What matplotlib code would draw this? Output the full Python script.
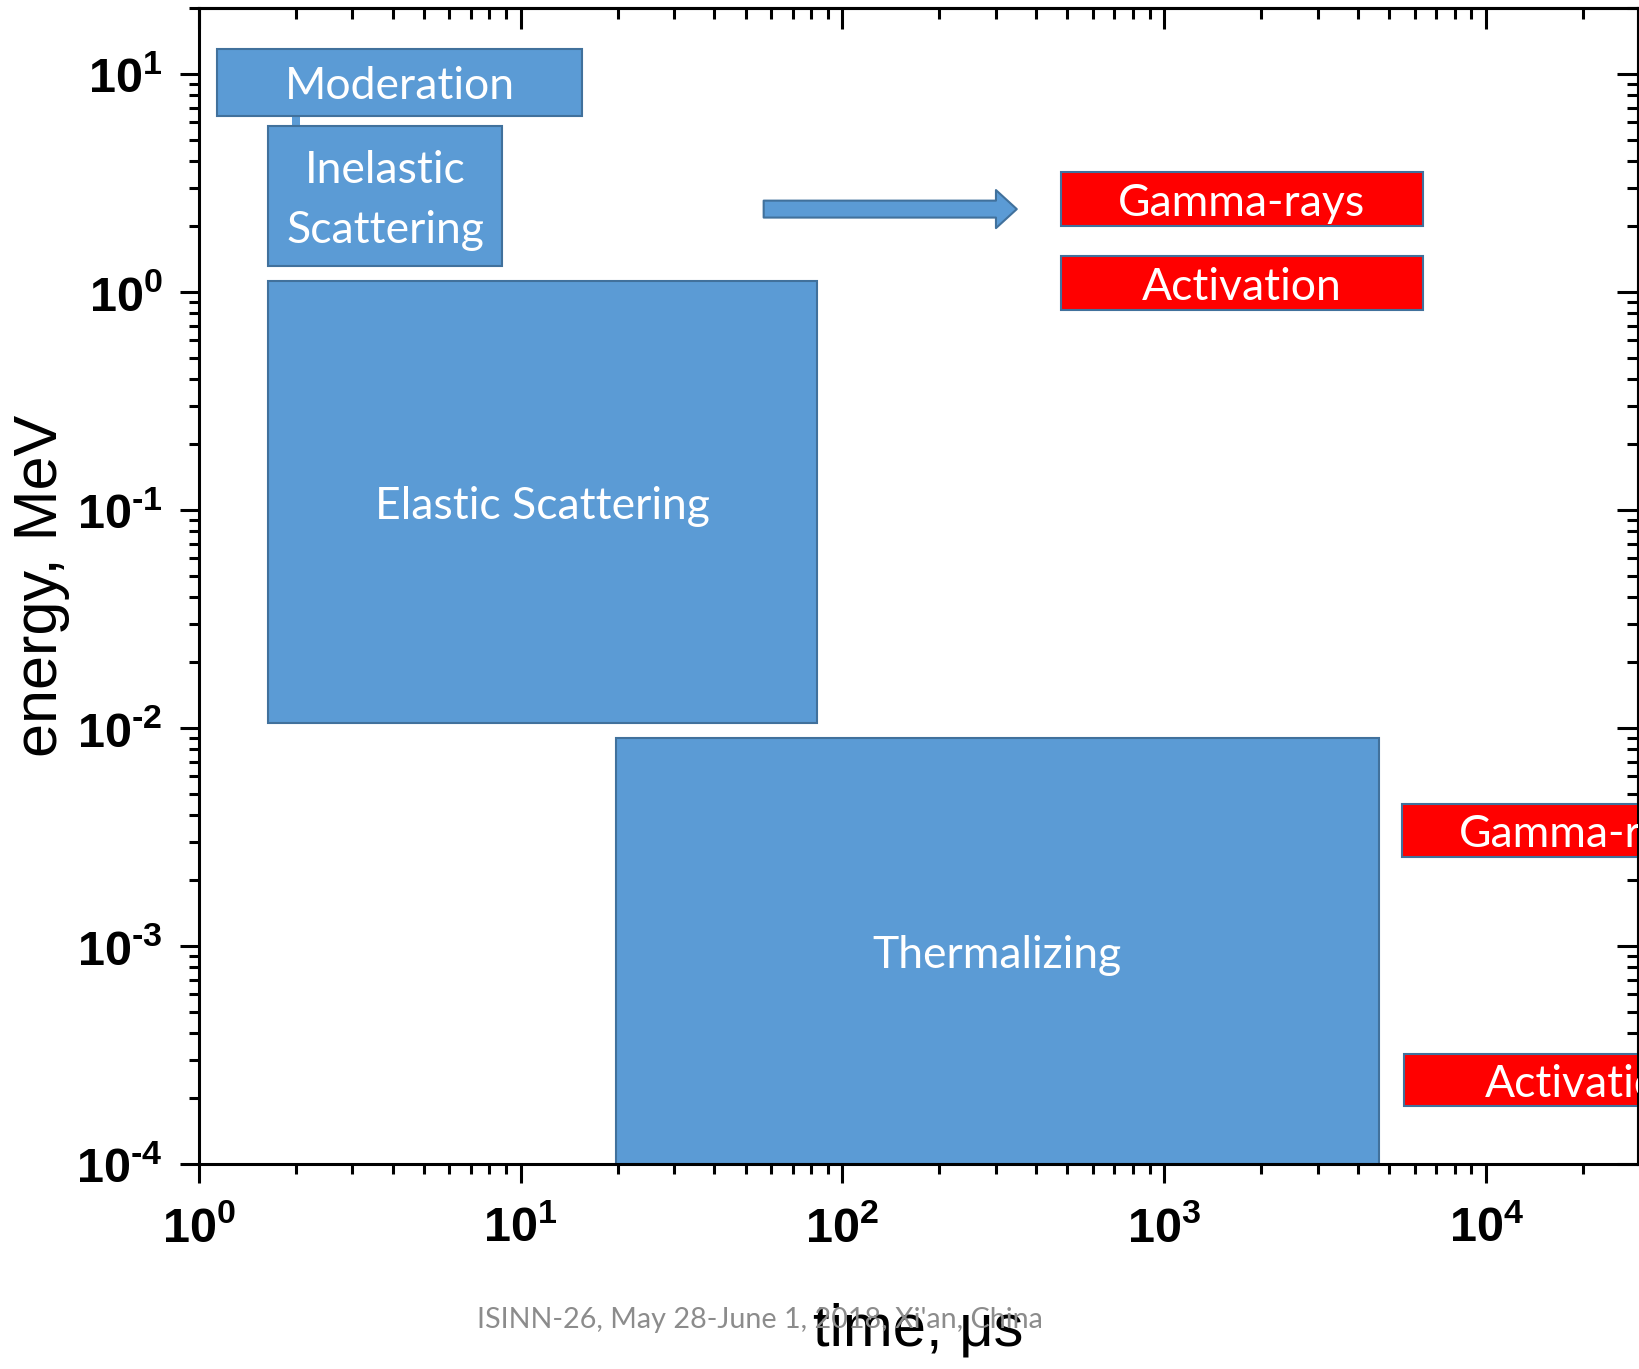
import matplotlib
matplotlib.use("Agg")
import matplotlib.pyplot as plt
import numpy as np
from matplotlib import font_manager
from matplotlib.ticker import LogLocator, NullFormatter

# blue process boxes (time in us, energy in MeV)
box_labels = ["Moderation", "Inelastic\nScattering", "Elastic Scattering", "Thermalizing"]
box_t_start = [1.14, 1.64, 1.64, 19.8]
box_t_end = [15.5, 8.76, 83.3, 4630]
box_e_low = [6.43, 1.31, 0.0106, 1e-4]
box_e_high = [13.0, 5.75, 1.12, 0.00897]

# small connector between Moderation and Inelastic
link_t = [1.95, 2.06]
link_e = [5.75, 6.43]

# red product boxes
red_labels = ["Gamma-rays", "Activation", "Gamma-rays", "Activation"]
red_t_start = [476, 476, 5460, 5550]
red_t_end = [6350, 6350, 72800, 74000]
red_e_low = [2.01, 0.823, 0.00255, 1.84e-4]
red_e_high = [3.54, 1.46, 0.00448, 3.19e-4]

# arrow
arrow_t = [56.9, 348]
arrow_e = 2.40

x_ticks = [1, 10, 100, 1000, 10000]
x_tick_labels = [r"$\mathbf{10^{0}}$", r"$\mathbf{10^{1}}$", r"$\mathbf{10^{2}}$",
                 r"$\mathbf{10^{3}}$", r"$\mathbf{10^{4}}$"]
y_ticks = [1e-4, 1e-3, 1e-2, 1e-1, 1, 10]
y_tick_labels = [r"$\mathbf{10^{\text{-}4}}$", r"$\mathbf{10^{\text{-}3}}$",
                 r"$\mathbf{10^{\text{-}2}}$", r"$\mathbf{10^{\text{-}1}}$",
                 r"$\mathbf{10^{0}}$", r"$\mathbf{10^{1}}$"]

BLUE = "#5B9BD5"
EDGE = "#41719C"
RED = "#FF0000"

names = {f.name for f in font_manager.fontManager.ttflist}
box_font = "Lato" if "Lato" in names else "DejaVu Sans"
ax_font = "Liberation Sans" if "Liberation Sans" in names else "DejaVu Sans"

plt.rcParams["mathtext.fontset"] = "custom"
plt.rcParams["mathtext.rm"] = ax_font + ":bold"
plt.rcParams["mathtext.bf"] = ax_font + ":bold"
plt.rcParams["mathtext.it"] = ax_font + ":italic"

fig = plt.figure(figsize=(16.4, 13.69), dpi=100)
ax = fig.add_axes([0.1212, 0.1497, 0.999 - 0.1212, 0.9939 - 0.1497])
ax.set_xscale("log")
ax.set_yscale("log")
ax.set_xlim(1, 29700)
ax.set_ylim(1e-4, 20)

# boxes
ax.bar(box_t_start, np.subtract(box_e_high, box_e_low),
       width=np.subtract(box_t_end, box_t_start), bottom=box_e_low,
       align="edge", color=BLUE, edgecolor=EDGE, linewidth=1.5, zorder=2)
ax.bar(link_t[0], link_e[1] - link_e[0], width=link_t[1] - link_t[0],
       bottom=link_e[0], align="edge", color=BLUE, linewidth=0, zorder=1.9)
for lab, t0, t1, e0, e1 in zip(box_labels, box_t_start, box_t_end, box_e_low, box_e_high):
    ax.annotate(lab, (np.sqrt(t0 * t1), np.sqrt(e0 * e1)), xytext=(0, -3),
                textcoords="offset points", color="white", family=box_font,
                fontsize=32, ha="center", va="center", linespacing=1.55, zorder=3)

ax.bar(red_t_start, np.subtract(red_e_high, red_e_low),
       width=np.subtract(red_t_end, red_t_start), bottom=red_e_low,
       align="edge", color=RED, edgecolor=EDGE, linewidth=1.5, zorder=2)
for lab, t0, t1, e0, e1 in zip(red_labels, red_t_start, red_t_end, red_e_low, red_e_high):
    ax.annotate(lab, (np.sqrt(t0 * t1), np.sqrt(e0 * e1)), xytext=(0, -3),
                textcoords="offset points", color="white", family=box_font,
                fontsize=32, ha="center", va="center", annotation_clip=False,
                clip_on=True, zorder=3)

ax.annotate("", xy=(arrow_t[1], arrow_e), xytext=(arrow_t[0], arrow_e),
            arrowprops=dict(arrowstyle="simple,head_length=1.5,head_width=2.74,tail_width=1.22",
                            fc=BLUE, ec=EDGE, lw=1.5, shrinkA=0, shrinkB=0,
                            mutation_scale=10))

# axes styling
for sp in ax.spines.values():
    sp.set_linewidth(2.2)
ax.set_xticks(x_ticks, x_tick_labels)
ax.set_yticks(y_ticks, y_tick_labels)
ax.xaxis.set_minor_locator(LogLocator(base=10, subs=np.arange(2, 10), numticks=20))
ax.yaxis.set_minor_locator(LogLocator(base=10, subs=np.arange(2, 10), numticks=20))
ax.xaxis.set_minor_formatter(NullFormatter())
ax.yaxis.set_minor_formatter(NullFormatter())
ax.tick_params(which="major", direction="out", length=14, width=2.2, labelsize=35)
ax.tick_params(axis="x", which="major", pad=15)
ax.tick_params(axis="y", which="major", pad=12)
ax.tick_params(which="minor", direction="out", length=7, width=2.2)
ax.tick_params(top=False, right=False)

top = ax.secondary_xaxis("top")
right = ax.secondary_yaxis("right")
for sec, axis in ((top, top.xaxis), (right, right.yaxis)):
    axis.set_minor_locator(LogLocator(base=10, subs=np.arange(2, 10), numticks=20))
    axis.set_major_formatter(NullFormatter())
    axis.set_minor_formatter(NullFormatter())
    sec.tick_params(which="major", direction="in", length=15, width=2.2)
    sec.tick_params(which="minor", direction="in", length=8, width=2.2)
    for sp in sec.spines.values():
        sp.set_linewidth(2.2)

ax.set_xlabel("time, μs", family=ax_font, fontsize=43)
ax.xaxis.set_label_coords(0.5, -0.1436)
ax.xaxis.label.set_va("center")
ax.set_ylabel("energy, MeV", family=ax_font, fontsize=44)
ax.yaxis.set_label_coords(-0.1089, 0.5)
ax.yaxis.label.set_va("center")

fig.text(0.4634, 0.0358, "ISINN-26, May 28-June 1, 2018, Xi'an, China",
         color="#8C8C8C", family=box_font, fontsize=20.7, ha="center", va="center")

fig.savefig("out.png", dpi=100)
